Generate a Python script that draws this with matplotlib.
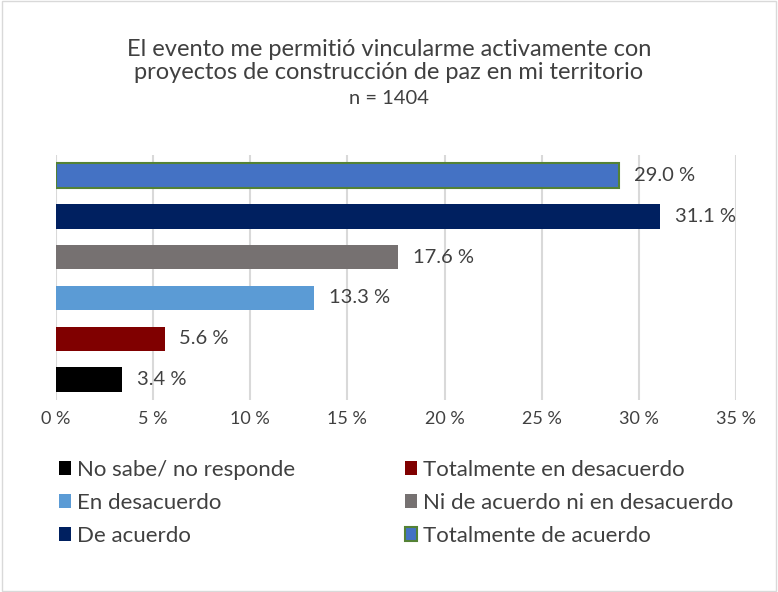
import matplotlib
matplotlib.use("Agg")
import matplotlib.pyplot as plt
from matplotlib.patches import Rectangle
from matplotlib.ticker import MultipleLocator, FuncFormatter

plt.rcParams['font.family'] = ['Lato', 'DejaVu Sans']

categories = ["No sabe/ no responde", "Totalmente en desacuerdo", "En desacuerdo",
              "Ni de acuerdo ni en desacuerdo", "De acuerdo", "Totalmente de acuerdo"]
values = [3.4, 5.6, 13.3, 17.6, 31.1, 29.0]
colors = ["#000000", "#800000", "#5B9BD5", "#767171", "#002060", "#4472C4"]
edges = ["#000000", "#800000", "#5B9BD5", "#767171", "#002060", "#548235"]
title = "El evento me permitió vincularme activamente con\nproyectos de construcción de paz en mi territorio"
subtitle = "n = 1404"

fig = plt.figure(figsize=(7.78, 5.92), dpi=100)
ax = fig.add_axes([56/778, 192/592, 680/778, 245/592])

txt = "#404040"
handles = []
for i, (c, v, col, ec) in enumerate(zip(categories, values, colors, edges)):
    lw = 1.5 if ec != col else 0
    b = ax.barh(i, v, height=0.6, color=col, edgecolor=ec, linewidth=lw, label=c, zorder=3)
    handles.append(b)
    ax.text(v + 0.75, i, f"{v:.1f} %", va="center", ha="left", fontsize=14.5, color=txt)

ax.set_xlim(0, 35)
ax.set_ylim(-0.5, 5.5)
ax.xaxis.set_major_locator(MultipleLocator(5))
ax.xaxis.set_major_formatter(FuncFormatter(lambda x, p: f"{x:.0f} %"))
ax.set_yticks([])
for s in ax.spines.values():
    s.set_visible(False)
ax.grid(axis="x", color="#D9D9D9", linewidth=1.5, zorder=0)
ax.tick_params(axis="x", length=0, labelsize=13, labelcolor=txt, pad=8)

fig.text(0.5, 1 - 61/592, title, ha="center", va="center", fontsize=17, color=txt, linespacing=1.15)
fig.text(0.5, 1 - 98/592, subtitle, ha="center", va="center", fontsize=14.5, color=txt)

order = [0, 2, 4, 1, 3, 5]
leg = fig.legend([handles[k] for k in order], [categories[k] for k in order],
                 ncol=2, loc="upper left", bbox_to_anchor=(50/778, 1 - 451/592),
                 frameon=False, fontsize=16, labelcolor=txt,
                 handlelength=0.55, handleheight=0.55, handletextpad=0.25,
                 columnspacing=4.95, labelspacing=0.58, borderaxespad=0)

fig.patches.append(Rectangle((0.002, 0.002), 0.996, 0.996, transform=fig.transFigure,
                             fill=False, edgecolor="#D9D9D9", linewidth=1))

fig.savefig("out.png", dpi=100)
